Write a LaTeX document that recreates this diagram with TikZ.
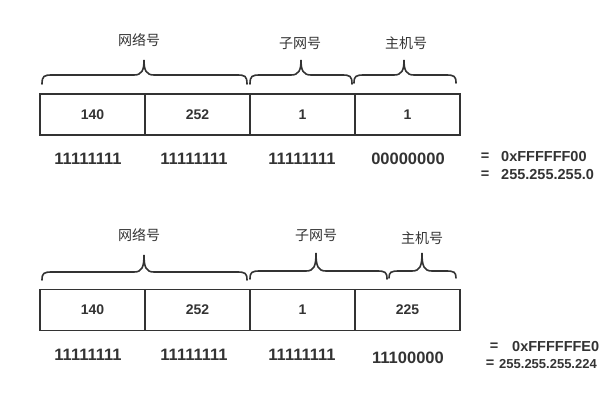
\documentclass[tikz,border=0pt]{standalone}
\usepackage{fontspec}
\setmainfont{Liberation Sans}
\newfontfamily\cjk{Noto Sans CJK SC}
\definecolor{ink}{HTML}{333333}
\newcommand{\mybrace}[6]{% x1, x2, xtip, yend, yh, ytip
  \draw[bracestyle] (#1,#4) .. controls (#1,#5+1) and (#1+2,#5) .. (#1+10,#5)
    -- (#3-10,#5) .. controls (#3-2,#5) and (#3,#5-5) .. (#3,#6)
    .. controls (#3,#5-5) and (#3+2,#5) .. (#3+10,#5)
    -- (#2-10,#5) .. controls (#2-2,#5) and (#2,#5+1) .. (#2,#4);}
\begin{document}
\begin{tikzpicture}[x=1pt,y=-1pt,
  cell/.style={draw=ink,line width=1.6pt,minimum width=105pt,minimum height=41pt,inner sep=0pt,
    text=ink,font=\bfseries\fontsize{14}{16}\selectfont},
  bits/.style={text=ink,font=\bfseries\fontsize{16.5}{18}\selectfont,inner sep=0pt},
  eq/.style={text=ink,font=\bfseries\fontsize{14.5}{17}\selectfont,inner sep=0pt},
  lbl/.style={text=ink,font=\cjk\fontsize{14}{16}\selectfont,inner sep=0pt},
  bracestyle/.style={draw=ink,line width=1.6pt,line cap=round}]
\useasboundingbox (0,0) rectangle (600,400);
% ---------- top ----------
\node[lbl] (l1a) at (139,40) {网络号};
\node[lbl] (l1b) at (300,43) {子网号};
\node[lbl] (l1c) at (406,43) {主机号};
\mybrace{42}{247}{144}{84}{75}{60}
\mybrace{250}{352}{301}{84}{75}{60}
\mybrace{354}{456}{404}{83}{75}{60}
\node[cell] (a1) at (92.5,114.5) {140};
\node[cell] (a2) at (197.5,114.5) {252};
\node[cell] (a3) at (302.5,114.5) {1};
\node[cell] (a4) at (407.5,114.5) {1};
\node[bits] (b1) at (88,159) {11111111};
\node[bits] (b2) at (194,159) {11111111};
\node[bits] (b3) at (302,159) {11111111};
\node[bits] (b4) at (408,159) {00000000};
\node[eq] (e1) at (485,157) {=};
\node[eq,anchor=west] (h1) at (501,157) {0xFFFFFF00};
\node[eq] (e2) at (485,175) {=};
\node[eq,anchor=west] (d1) at (501,175) {255.255.255.0};
% ---------- bottom ----------
\node[lbl] (l2a) at (139,235) {网络号};
\node[lbl] (l2b) at (316,235) {子网号};
\node[lbl] (l2c) at (422,238) {主机号};
\mybrace{42}{247}{144}{280}{272}{255}
\mybrace{250}{387}{316}{279}{271}{253}
\mybrace{389}{456}{422}{278}{271}{253}
\node[cell] (c1) at (92.5,310) {140};
\node[cell] (c2) at (197.5,310) {252};
\node[cell] (c3) at (302.5,310) {1};
\node[cell] (c4) at (407.5,310) {225};
\node[bits] (f1) at (88,355) {11111111};
\node[bits] (f2) at (194,355) {11111111};
\node[bits] (f3) at (302,355) {11111111};
\node[bits] (f4) at (408,358) {11100000};
\node[eq] (e3) at (494,347) {=};
\node[eq,anchor=west] (h2) at (512,347) {0xFFFFFFE0};
\node[eq] (e4) at (490,364) {=};
\node[eq,anchor=west,font=\bfseries\fontsize{13}{15}\selectfont] (d2) at (499,364) {255.255.255.224};
\end{tikzpicture}
\end{document}
